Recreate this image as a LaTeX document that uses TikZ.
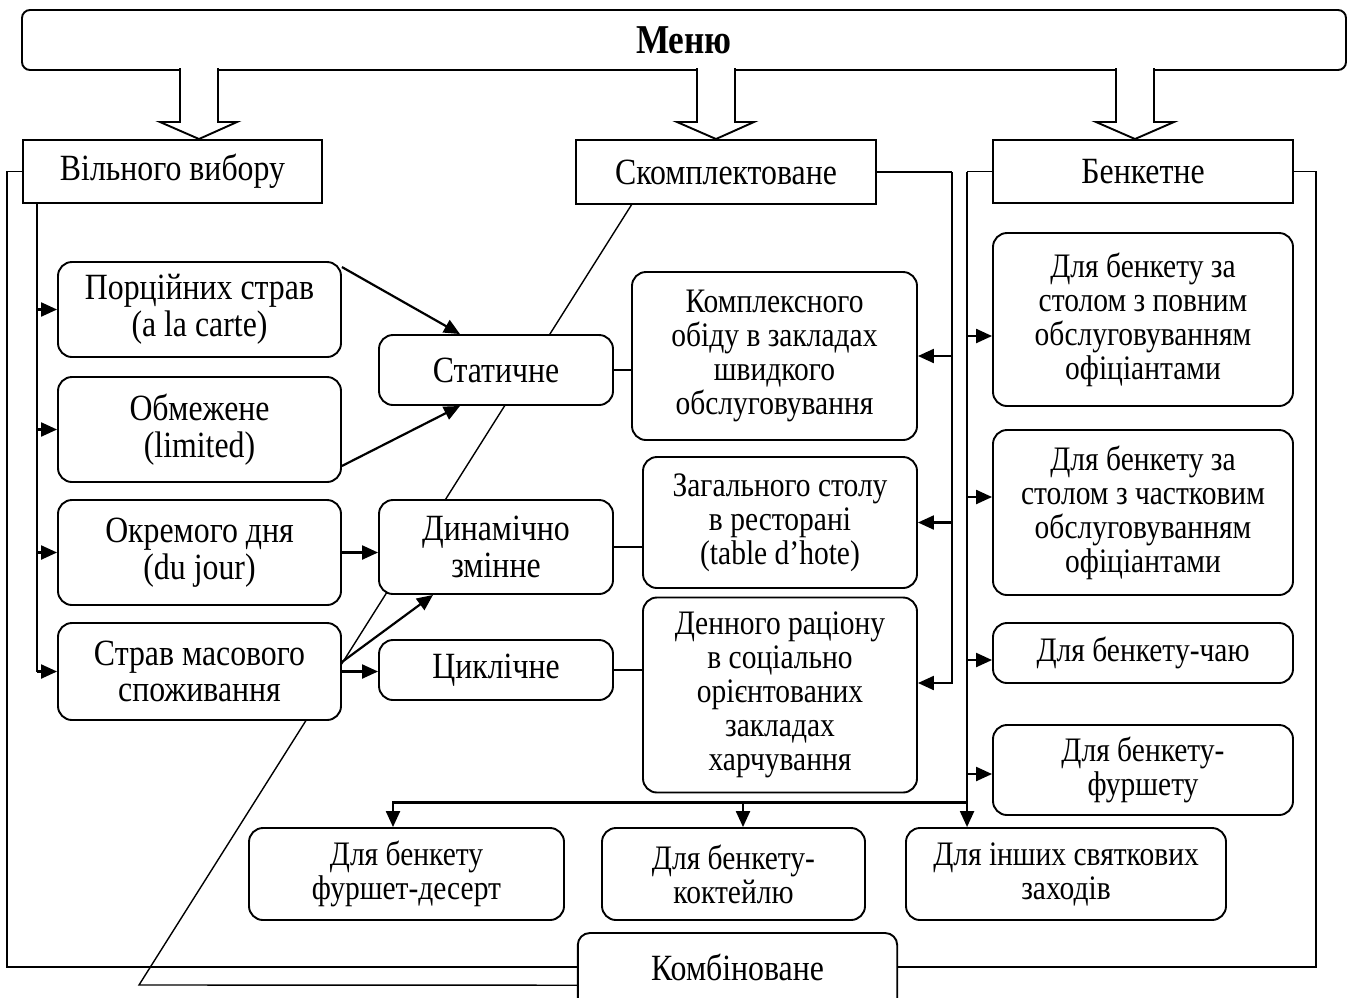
\documentclass[tikz,border=0pt]{standalone}
\usepackage{fontspec}
\setmainfont{Liberation Serif}[FakeStretch=0.86]
\usetikzlibrary{arrows.meta}
\begin{document}
\begin{tikzpicture}[x=1pt,y=-1pt,
  base/.style={draw, line width=1.9pt, fill=white, align=center, inner sep=0pt},
  sbox/.style={base},
  rbox/.style={base, rounded corners=14pt},
  big/.style={font=\fontsize{37}{36.8}\selectfont},
  small/.style={font=\fontsize{34.3}{34}\selectfont},
  ln/.style={line width=1.9pt},
  thinln/.style={line width=1.4pt},
  arr/.style={line width=2.2pt, -{Triangle[length=16pt,width=14pt]}},
  hollow/.style={line width=1.9pt, fill=white}
]
\useasboundingbox (0,0) rectangle (1354,997);

% diagonal line (behind boxes)
\node[inner sep=0pt, minimum width=319, minimum height=68, anchor=north, big] (km) at (737.5,933) {Комбіноване};
\coordinate (skd) at (632,204);
\draw[thinln] ([yshift=-18pt]km.west) -- (139,985) -- (skd);

% title
\node[base, rounded corners=8pt, minimum width=1324, minimum height=60, font=\fontsize{41}{44}\selectfont\bfseries] (menu) at (684,40) {Меню};

% hollow arrows
\draw[hollow] (180,68) -- (180,122) -- (160,122) -- (199,139) -- (237,122) -- (218,122) -- (218,68);
\draw[hollow] (697,68) -- (697,122) -- (677,122) -- (716,139) -- (754,122) -- (735,122) -- (735,68);
\draw[hollow] (1116,68) -- (1116,122) -- (1096,122) -- (1135,139) -- (1174,122) -- (1154,122) -- (1154,68);

% level 1
\node[sbox, big, minimum width=299, minimum height=63] (vv) at (172.5,171.5) {Вільного вибору};
\node[sbox, big, minimum width=300, minimum height=64] (sk) at (726,172) {Скомплектоване};
\node[sbox, big, minimum width=300, minimum height=63] (bn) at (1143,171.5) {Бенкетне};

% left column
\node[rbox, big, minimum width=283, minimum height=95] (p1) at (199.5,309.5) {Порційних страв\\(a la carte)};
\node[rbox, big, minimum width=283, minimum height=105] (p2) at (199.5,429.5) {Обмежене\\(limited)};
\node[rbox, big, minimum width=283, minimum height=105] (p3) at (199.5,552.5) {Окремого дня\\(du jour)};
\node[rbox, big, minimum width=283, minimum height=97] (p4) at (199.5,671.5) {Страв масового\\споживання};

% second column
\node[rbox, big, minimum width=234, minimum height=70] (st) at (496,370) {Статичне};
\node[rbox, big, minimum width=234, minimum height=94] (dy) at (496,547) {Динамічно\\змінне};
\node[rbox, big, minimum width=234, minimum height=60] (cy) at (496,670) {Циклічне};

% third column
\node[rbox, small, minimum width=285, minimum height=168] (m1) at (774.5,356) {Комплексного\\обіду в закладах\\швидкого\\обслуговування};
\node[rbox, small, minimum width=274, minimum height=131] (m2) at (780,522.5) {Загального столу\\в ресторані\\(table d’hote)};
\node[rbox, small, minimum width=274, minimum height=195] (m3) at (780,695) {Денного раціону\\в соціально\\орієнтованих\\закладах\\харчування};

% right column
\node[rbox, small, minimum width=300, minimum height=173] (r1) at (1143,319.5) {Для бенкету за\\столом з повним\\обслуговуванням\\офіціантами};
\node[rbox, small, minimum width=300, minimum height=165] (r2) at (1143,512.5) {Для бенкету за\\столом з частковим\\обслуговуванням\\офіціантами};
\node[rbox, small, minimum width=300, minimum height=60] (r3) at (1143,653) {Для бенкету-чаю};
\node[rbox, small, minimum width=300, minimum height=90] (r4) at (1143,770) {Для бенкету-\\фуршету};

% bottom row
\node[rbox, small, minimum width=315, minimum height=92] (b1) at (406.5,874) {Для бенкету\\фуршет-десерт};
\node[rbox, small, minimum width=263, minimum height=92] (b2) at (733.5,874) {Для бенкету-\\коктейлю};
\node[rbox, small, minimum width=320, minimum height=92] (b3) at (1066,874) {Для інших святкових\\заходів};

% Комбіноване frame
\draw[ln, rounded corners=12pt] ([yshift=-30pt]km.south west) -- (km.north west) -- (km.north east) -- ([yshift=-30pt]km.south east);

% outer lines to Комбіноване
\draw[ln] (vv.west) -- ++(-15,0) |- (km.west);
\draw[ln] (bn.east) -- ++(22,0) |- (km.east);

% Вільного вибору branches
\coordinate (vvb) at (37,203);
\draw[ln] (vvb) -- (vvb |- p4.west);
\draw[arr] (vvb |- p1.west) -- (p1.west);
\draw[arr] (vvb |- p2.west) -- (p2.west);
\draw[arr] (vvb |- p3.west) -- (p3.west);
\draw[arr] (vvb |- p4.west) -- (p4.west);

% left column to second column
\draw[arr] ([yshift=-6pt]p1.north east) -- ([xshift=-36pt]st.north);
\draw[arr] ([yshift=17pt]p2.south east) -- ([xshift=-36pt]st.south);
\draw[arr] (p3.east) -- (p3.east -| dy.west);
\draw[arr] ([yshift=9.5pt]p4.east) -- ([xshift=-63pt]dy.south);
\draw[arr] (p4.east) -- (p4.east -| cy.west);

% second to third column
\draw[ln] (st.east) -- (st.east -| m1.west);
\draw[ln] (dy.east) -- (dy.east -| m2.west);
\draw[ln] (cy.east) -- (cy.east -| m3.west);

% Скомплектоване right branch
\draw[ln] (sk.east) -- ++(75,0) coordinate (skr);
\draw[arr] (skr) |- ([yshift=12pt]m3.east);
\draw[arr] (skr |- m1.east) -- (m1.east);
\draw[arr] (skr |- m2.east) -- (m2.east);

% Бенкетне left branch
\draw[ln] (bn.west) -- ++(-25,0) coordinate (bnl);
\draw[arr] (bnl) -- (bnl |- b3.north);
\draw[arr] (bnl |- r1.west) ++(0,16.5) -- ([yshift=-16.5pt]r1.west);
\draw[arr] (bnl |- r2.west) ++(0,-15.5) -- ([yshift=15.5pt]r2.west);
\draw[arr] (bnl |- r3.west) ++(0,7) -- ([yshift=-7pt]r3.west);
\draw[arr] (bnl |- r4.west) ++(0,4) -- ([yshift=-4pt]r4.west);
\path (bnl) ++(0,631) coordinate (br);
\draw[arr] (br) -| ([xshift=-13.5pt]b1.north);
\draw[arr] (br -| b2.north) ++(9.5,0) -- ([xshift=9.5pt]b2.north);
\end{tikzpicture}
\end{document}
